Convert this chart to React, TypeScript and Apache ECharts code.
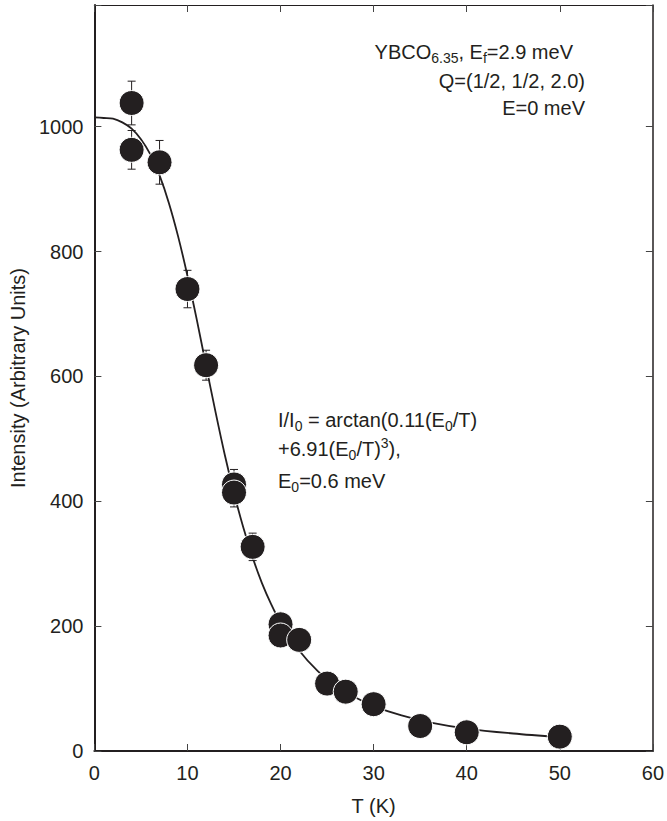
import React, { useEffect, useRef } from "react";
import * as echarts from "echarts";

// Measured data points: temperature (K), intensity (arb. units), error bar half-height
const T_POINTS = [4, 4, 7, 10, 12, 15, 15, 17, 20, 20, 22, 25, 27, 30, 35, 40, 50];
const I_POINTS = [1038, 963, 943, 740, 618, 427, 414, 327, 203, 185, 178, 108, 95, 75, 40, 30, 23];
const I_ERR = [35, 31, 35, 30, 24, 24, 23, 22, 15, 15, 15, 12, 12, 10, 10, 10, 10];

// Fit curve
const FIT_T = [0, 1, 2, 3, 4, 5, 6, 7, 8, 9, 10, 11, 12, 13, 14, 15, 16, 17, 18, 19, 20, 22, 24, 26, 28, 30, 33, 36, 40, 45, 50];
const FIT_I = [1015, 1014, 1013, 1007, 997, 980, 956, 922, 878, 824, 761, 691, 617, 544, 475, 413, 358, 310, 269, 235, 206, 161, 128, 104, 86, 72, 57, 46, 36, 28, 22];

const X_MIN = 0;
const X_MAX = 60;
const X_STEP = 10;
const Y_MIN = 0;
const Y_MAX = 1195;
const Y_STEP = 200;

const FONT = "'Liberation Sans', Arial, Helvetica, sans-serif";
const INK = "#231f20";

export default function App() {
  const ref = useRef<HTMLDivElement>(null);

  useEffect(() => {
    if (!ref.current) return;
    const chart = echarts.init(ref.current, null, { renderer: "svg" });

    const scatterData = T_POINTS.map((t, i) => [t, I_POINTS[i]]);
    const errData = T_POINTS.map((t, i) => [t, I_POINTS[i] - I_ERR[i], I_POINTS[i] + I_ERR[i]]);
    const fitData = FIT_T.map((t, i) => [t, FIT_I[i]]);

    const rich = {
      n: { fontSize: 20, fontFamily: FONT, color: INK },
      s: { fontSize: 14, fontFamily: FONT, color: INK, padding: [12, 0, 0, 0] },
      p: { fontSize: 14, fontFamily: FONT, color: INK, padding: [0, 0, 12, 0] },
    };

    const mkText = (text: string, x: number, y: number, align: string) => ({
      type: "text",
      x,
      y,
      z: 10,
      style: {
        text,
        rich,
        align,
        verticalAlign: "middle",
        fontSize: 20,
        fontFamily: FONT,
        fill: INK,
      },
    });

    const baseAxisLabel = { fontSize: 20, color: INK, fontFamily: FONT };

    chart.setOption({
      animation: false,
      backgroundColor: "#fff",
      grid: { left: 94, right: 12, top: 5, bottom: 63, containLabel: false },
      xAxis: [
        {
          type: "value",
          min: X_MIN,
          max: X_MAX,
          interval: X_STEP,
          position: "bottom",
          axisLine: { show: true, onZero: false, lineStyle: { color: INK, width: 2 } },
          axisTick: { show: true, inside: true, length: 7, lineStyle: { color: "#444", width: 1 } },
          axisLabel: { ...baseAxisLabel, margin: 12 },
          splitLine: { show: false },
          name: "T (K)",
          nameLocation: "middle",
          nameGap: 45,
          nameTextStyle: { fontSize: 20, color: INK, fontFamily: FONT },
        },
        {
          type: "value",
          min: X_MIN,
          max: X_MAX,
          interval: X_STEP,
          position: "top",
          axisLine: { show: true, onZero: false, lineStyle: { color: INK, width: 1.2 } },
          axisTick: { show: true, inside: true, length: 7, lineStyle: { color: "#444", width: 1 } },
          axisLabel: { show: false },
          splitLine: { show: false },
        },
      ],
      yAxis: [
        {
          type: "value",
          min: Y_MIN,
          max: Y_MAX,
          interval: Y_STEP,
          position: "left",
          axisLine: { show: true, onZero: false, lineStyle: { color: INK, width: 2 } },
          axisTick: { show: true, inside: true, length: 7, lineStyle: { color: "#444", width: 1 } },
          axisLabel: {
            ...baseAxisLabel,
            margin: 11,
            formatter: (v: number) => (v % Y_STEP === 0 ? String(v) : ""),
          },
          splitLine: { show: false },
          name: "Intensity (Arbitrary Units)",
          nameLocation: "middle",
          nameGap: 64,
          nameTextStyle: { fontSize: 20, color: INK, fontFamily: FONT },
        },
        {
          type: "value",
          min: Y_MIN,
          max: Y_MAX,
          interval: Y_STEP,
          position: "right",
          axisLine: { show: true, onZero: false, lineStyle: { color: INK, width: 1.5 } },
          axisTick: { show: true, inside: true, length: 7, lineStyle: { color: "#444", width: 1 } },
          axisLabel: { show: false },
          splitLine: { show: false },
        },
      ],
      series: [
        {
          type: "custom",
          xAxisIndex: 0,
          yAxisIndex: 0,
          z: 2,
          silent: true,
          data: errData,
          renderItem: (params: any, api: any) => {
            const x = api.value(0);
            const lo = api.coord([x, api.value(1)]);
            const hi = api.coord([x, api.value(2)]);
            const w = 4;
            const st = { stroke: "#231f20", lineWidth: 1 };
            return {
              type: "group",
              children: [
                { type: "line", shape: { x1: lo[0], y1: lo[1], x2: hi[0], y2: hi[1] }, style: st },
                { type: "line", shape: { x1: lo[0] - w, y1: lo[1], x2: lo[0] + w, y2: lo[1] }, style: st },
                { type: "line", shape: { x1: hi[0] - w, y1: hi[1], x2: hi[0] + w, y2: hi[1] }, style: st },
              ],
            };
          },
        },
        {
          type: "line",
          xAxisIndex: 0,
          yAxisIndex: 0,
          z: 3,
          data: fitData,
          smooth: 0.3,
          showSymbol: false,
          symbol: "none",
          lineStyle: { color: INK, width: 1.8 },
        },
        {
          type: "scatter",
          xAxisIndex: 0,
          yAxisIndex: 0,
          z: 4,
          data: scatterData,
          symbol: "circle",
          symbolSize: 25,
          itemStyle: { color: INK, opacity: 1, borderColor: "#fff", borderWidth: 1 },
        },
      ],
      graphic: [
        mkText("{n|YBCO}{s|6.35}{n|, E}{s|f}{n|=2.9 meV}", 573, 52, "right"),
        mkText("{n|Q=(1/2, 1/2, 2.0)}", 585, 81, "right"),
        mkText("{n|E=0 meV}", 585, 108, "right"),
        mkText("{n|I/I}{s|0}{n| = arctan(0.11(E}{s|0}{n|/T)}", 278, 420, "left"),
        mkText("{n|+6.91(E}{s|0}{n|/T)}{p|3}{n|),}", 278, 449, "left"),
        mkText("{n|E}{s|0}{n|=0.6 meV}", 278, 481, "left"),
      ],
    });

    return () => chart.dispose();
  }, []);

  return (
    <div
      ref={ref}
      style={{ position: "fixed", left: 0, top: 0, width: 667, height: 821, background: "#fff" }}
    />
  );
}
